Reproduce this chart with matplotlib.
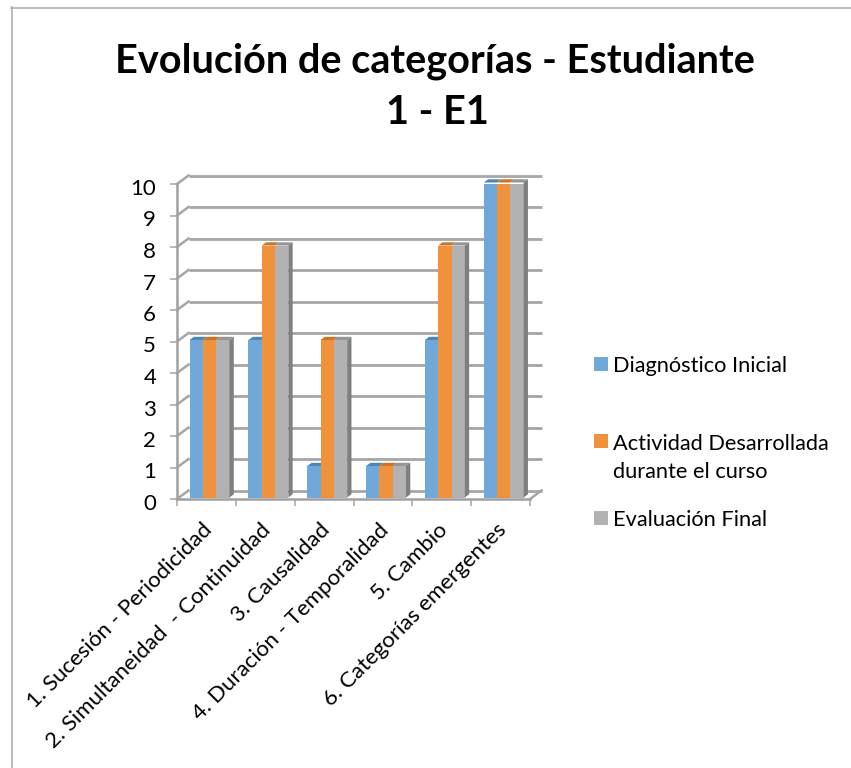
import matplotlib
matplotlib.use("Agg")
import matplotlib.pyplot as plt
from matplotlib.patches import Polygon, Rectangle
from matplotlib.lines import Line2D
from matplotlib.transforms import ScaledTranslation
import numpy as np

plt.rcParams['font.family'] = ['Lato', 'DejaVu Sans']

categories = ["1. Sucesión - Periodicidad", "2. Simultaneidad  - Continuidad", "3. Causalidad",
              "4. Duración - Temporalidad", "5. Cambio", "6. Categorías emergentes"]
diagnostico = [5, 5, 1, 1, 5, 10]
actividad = [5, 8, 5, 1, 8, 10]
evaluacion = [5, 8, 5, 1, 8, 10]
series_names = ["Diagnóstico Inicial", "Actividad Desarrollada\ndurante el curso", "Evaluación Final"]
title_lines = ["Evolución de categorías - Estudiante", "1 - E1"]
yticks = list(range(0, 11))

W, H = 851, 768
fig = plt.figure(figsize=(W/100, H/100), dpi=100)
fig.patch.set_facecolor('white')
BORDER = '#b0b0b0'
fig.add_artist(Line2D([11.5/W, 11.5/W], [0, 1-7/H], transform=fig.transFigure, color=BORDER, lw=1.2))
fig.add_artist(Line2D([11/W, 1], [1-7.5/H, 1-7.5/H], transform=fig.transFigure, color=BORDER, lw=1.2))

L, R, B, T = 177, 530, 499, 184
ax = fig.add_axes([L/W, 1-B/H, (R-L)/W, (B-T)/H])
ax.set_xlim(0, 6)
ax.set_ylim(0, 10)
ax.patch.set_visible(False)
for s in ('top', 'right'):
    ax.spines[s].set_visible(False)
for s in ('left', 'bottom'):
    ax.spines[s].set_color('#a0a0a0')
    ax.spines[s].set_linewidth(1.8)
    ax.spines[s].set_zorder(1)

# depth of the 3D box, in data units
px_x = 6/(R-L); px_y = 10/(B-T)
DX, DY = 11.5*px_x, 8.5*px_y
GRID = '#a6a6a6'
for v in yticks:
    ax.plot([DX, 6+DX], [v+DY, v+DY], color=GRID, lw=2, clip_on=False, zorder=1,
            solid_capstyle='butt')
    ax.plot([0, DX], [v, v+DY], color=GRID, lw=1.8, clip_on=False, zorder=1)
ax.plot([6, 6+DX], [0, DY], color=GRID, lw=1.8, clip_on=False, zorder=1)

colors = ['#6fa8d9', '#f0923b', '#b2b2b2']
tops = ['#4f86b8', '#cc7426', '#959595']
side = ['#4f86b8', '#c77024', '#7f7f7f']
series = [diagnostico, actividad, evaluacion]
bw = 13.3*px_x
x0 = 12.6*px_x
ddx, ddy = 4.3*px_x, 3.2*px_y
base = 1.5*px_y
for i in range(len(categories)):
    for j, vals in enumerate(series):
        left = i + x0 + j*bw
        v = vals[i] + base
        ax.bar(left, v-base, bottom=base, width=bw, align='edge', color=colors[j], lw=0, zorder=3+j*0.1)
        ax.add_patch(Polygon([(left, v), (left+bw, v), (left+bw+ddx, v+ddy), (left+ddx, v+ddy)],
                             closed=True, fc=tops[j], lw=0, zorder=3+j*0.1, clip_on=False))
    # side face of the last bar in the group
    left = i + x0 + 2*bw
    v = evaluacion[i] + base
    ax.add_patch(Polygon([(left+bw, base), (left+bw+ddx, base+ddy), (left+bw+ddx, v+ddy), (left+bw, v)],
                         closed=True, fc=side[2], lw=0, zorder=3.3, clip_on=False))

ax.set_yticks(yticks)
ax.set_xticks(range(0, 7))
ax.set_xticklabels([])
ax.tick_params(axis='y', length=5, width=1.1, color='#a6a6a6', labelsize=16, labelcolor='black', pad=10)
ax.tick_params(axis='x', length=5, width=1.1, color='#a6a6a6')
offset = ScaledTranslation(0, -3/100, fig.dpi_scale_trans)
for lab in ax.get_yticklabels():
    lab.set_transform(lab.get_transform() + offset)
for i, c in enumerate(categories):
    ax.annotate(c, xy=(i+0.42, 0), xycoords='data', xytext=(0, -15), textcoords='offset points',
                rotation=45, ha='right', va='top', rotation_mode='anchor', fontsize=16, color='black')

for line, yb, xc in zip(title_lines, [73, 124], [434.5, 437]):
    fig.text(xc/W, 1-yb/H, line, ha='center', va='baseline', fontsize=28.5, fontweight='bold', color='black')

# legend
swatch_y = [364, 441, 518]
txt_y = [366, 457.5, 520]
for name, c, y, ty in zip(series_names, colors, swatch_y, txt_y):
    fig.add_artist(Rectangle((594/W, 1-(y+7)/H), 14/W, 14/H, transform=fig.transFigure, fc=c, lw=0))
    fig.text(613/W, 1-ty/H, name, ha='left', va='center', fontsize=15.7, color='black', linespacing=1.5)

fig.savefig('out.png', dpi=100)
